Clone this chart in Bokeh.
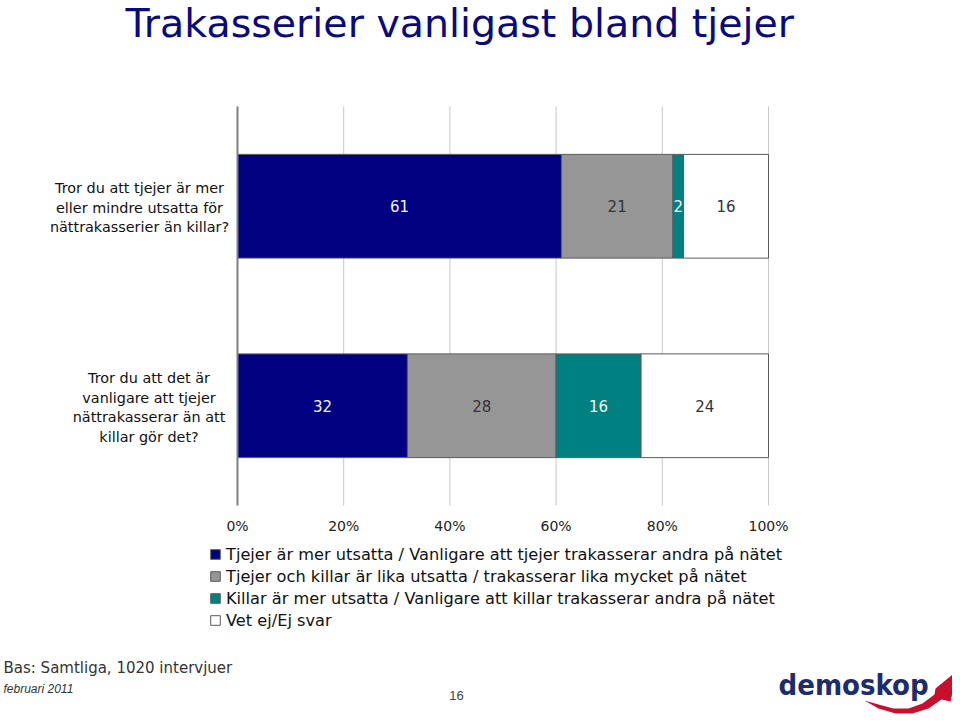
from bokeh.plotting import figure
from bokeh.models import (ColumnDataSource, Range1d, FixedTicker, Label, LinearAxis,
                          Legend, LegendItem, PolyAnnotation)
from bokeh.embed import file_html
from bokeh.resources import INLINE
from bokeh.core.properties import value

# ---------------- data ----------------
title_text = "Trakasserier vanligast bland tjejer"
questions = [
    "Tror du att tjejer är mer\neller mindre utsatta för\nnättrakasserier än killar?",
    "Tror du att det är\nvanligare att tjejer\nnättrakasserar än att\nkillar gör det?",
]
series_names = [
    "Tjejer är mer utsatta / Vanligare att tjejer trakasserar andra på nätet",
    "Tjejer och killar är lika utsatta / trakasserar lika mycket på nätet",
    "Killar är mer utsatta / Vanligare att killar trakasserar andra på nätet",
    "Vet ej/Ej svar",
]
tjejer_mer = [61, 32]
lika = [21, 28]
killar_mer = [2, 16]
vet_ej = [16, 24]
x_ticks = [0, 20, 40, 60, 80, 100]
tick_labels = ["0%", "20%", "40%", "60%", "80%", "100%"]
base_text = "Bas: Samtliga, 1020 intervjuer"
date_text = "februari 2011"
page_text = "16"
logo_text = "demoskop"

# ---------------- layout / styles ----------------
colors = ["#000080", "#969696", "#008080", "#ffffff"]
label_colors = ["#f4f4f4", "#333333", "#f4f4f4", "#333333"]
FONT = "DejaVu Sans"

W, H = 952, 714


def sx(ref_x):
    return ref_x


def sy(ref_y):
    return H - ref_y


CL, CR = sx(237), sx(768)        # chart left/right
CB, CT = sy(505), sy(106)        # chart bottom/top (from canvas bottom)
n = len(questions)
px_per_x = (CR - CL) / 100.0
px_per_row = (CT - CB) / n

p = figure(width=W, height=H, output_backend="svg", toolbar_location=None,
           x_range=Range1d(-CL / px_per_x, (W - CL) / px_per_x),
           y_range=Range1d(-CB / px_per_row, (H - CB) / px_per_row),
           x_axis_location=None, y_axis_location=None,
           min_border=0, min_border_left=0, min_border_right=0,
           min_border_top=0, min_border_bottom=0)
p.outline_line_color = None
p.background_fill_color = "white"
p.border_fill_color = "white"
p.xgrid.visible = False
p.ygrid.visible = False

row_y = [n - i - 0.5 for i in range(n)]

# grid lines
p.segment(x0=x_ticks, x1=x_ticks, y0=[0] * len(x_ticks), y1=[n] * len(x_ticks),
          line_color="#c8c8c8", line_width=1)

series = [tjejer_mer, lika, killar_mer, vet_ej]
lefts = [0] * n
renderers = []
for si, vals in enumerate(series):
    rights = [l + v for l, v in zip(lefts, vals)]
    src = ColumnDataSource(dict(y=row_y, left=lefts, right=rights,
                                mid=[(l + r) / 2 for l, r in zip(lefts, rights)],
                                txt=[str(v) for v in vals]))
    r = p.hbar(y="y", left="left", right="right", height=0.52, source=src,
               fill_color=colors[si], line_color="#5a5a5a", line_width=1)
    renderers.append(r)
    p.text(x="mid", y="y", text="txt", source=src, text_align="center",
           text_baseline="middle", text_font=value(FONT), text_font_size="15px",
           text_color=label_colors[si])
    lefts = rights

# axes
xa = LinearAxis(fixed_location=0, bounds=(0, 100))
xa.ticker = FixedTicker(ticks=x_ticks)
xa.major_label_overrides = {t: l for t, l in zip(x_ticks, tick_labels)}
xa.axis_line_color = None
xa.major_tick_line_color = None
xa.minor_tick_line_color = None
xa.major_label_standoff = 6
xa.major_label_text_font = FONT
xa.major_label_text_font_size = "14px"
xa.major_label_text_color = "#222222"
p.add_layout(xa, "below")

ya = LinearAxis(fixed_location=0, bounds=(0, n))
ya.ticker = FixedTicker(ticks=[])
ya.axis_line_color = "#7f7f7f"
ya.axis_line_width = 2
ya.major_tick_line_color = None
ya.minor_tick_line_color = None
ya.major_label_text_alpha = 0
p.add_layout(ya, "left")

# question labels
q_label_cx = [139, 148.5]
line_gap = 19.5
for i, q in enumerate(questions):
    lines = q.split("\n")
    cy = CB + row_y[i] * px_per_row - 1.5
    for k, ln in enumerate(lines):
        yk = cy + ((len(lines) - 1) / 2 - k) * line_gap
        p.add_layout(Label(x=sx(q_label_cx[i]), y=yk, x_units="screen", y_units="screen",
                           text=ln, text_align="center", text_baseline="middle",
                           text_font=FONT, text_font_size="14.4px", text_color="#111111"))

# title
p.add_layout(Label(x=sx(125), y=sy(22), x_units="screen", y_units="screen",
                   text=title_text, text_font=FONT, text_font_size="39.5px",
                   text_color="#0a0a7a", text_baseline="alphabetic"))

# legend
items = [LegendItem(label=nm, renderers=[r]) for nm, r in zip(series_names, renderers)]
legend = Legend(items=items, location=(sx(209), sy(631)),
                orientation="vertical", padding=0, margin=0, spacing=0,
                glyph_width=12, glyph_height=12, label_height=22, label_standoff=5,
                label_text_font=FONT, label_text_font_size="16.2px",
                label_text_color="#111111", label_text_baseline="middle",
                border_line_color=None, background_fill_alpha=0)
p.add_layout(legend, "center")

# footer
p.add_layout(Label(x=sx(3), y=sy(667), x_units="screen", y_units="screen",
                   text=base_text, text_font=FONT, text_font_size="15px",
                   text_color="#333333", text_baseline="alphabetic"))
p.add_layout(Label(x=sx(3), y=sy(688), x_units="screen", y_units="screen",
                   text=date_text, text_font="Liberation Sans", text_font_size="12px",
                   text_font_style="italic", text_color="#333333", text_baseline="alphabetic"))
p.add_layout(Label(x=sx(456), y=sy(695), x_units="screen", y_units="screen",
                   text=page_text, text_font="Liberation Sans", text_font_size="13px",
                   text_color="#444444", text_align="center", text_baseline="alphabetic"))
p.add_layout(Label(x=sx(778), y=sy(684), x_units="screen", y_units="screen",
                   text=logo_text, text_font="DejaVu Sans Condensed", text_font_size="29px",
                   text_font_style="bold", text_color="#1b2d6b", text_baseline="alphabetic"))

# logo swoosh (decoration)
sw = [(864, 700), (878, 708), (895, 713), (912, 713), (928, 708), (941, 699), (950, 701),
      (957, 670), (935, 688), (934, 694), (922, 703), (908, 708), (893, 708), (878, 704)]
p.add_layout(PolyAnnotation(xs=[sx(x) for x, _ in sw], ys=[sy(y) for _, y in sw],
                            xs_units="screen", ys_units="screen",
                            fill_color="#c8102e", fill_alpha=1, line_color=None))

open("out.html", "w").write(file_html(p, INLINE))
